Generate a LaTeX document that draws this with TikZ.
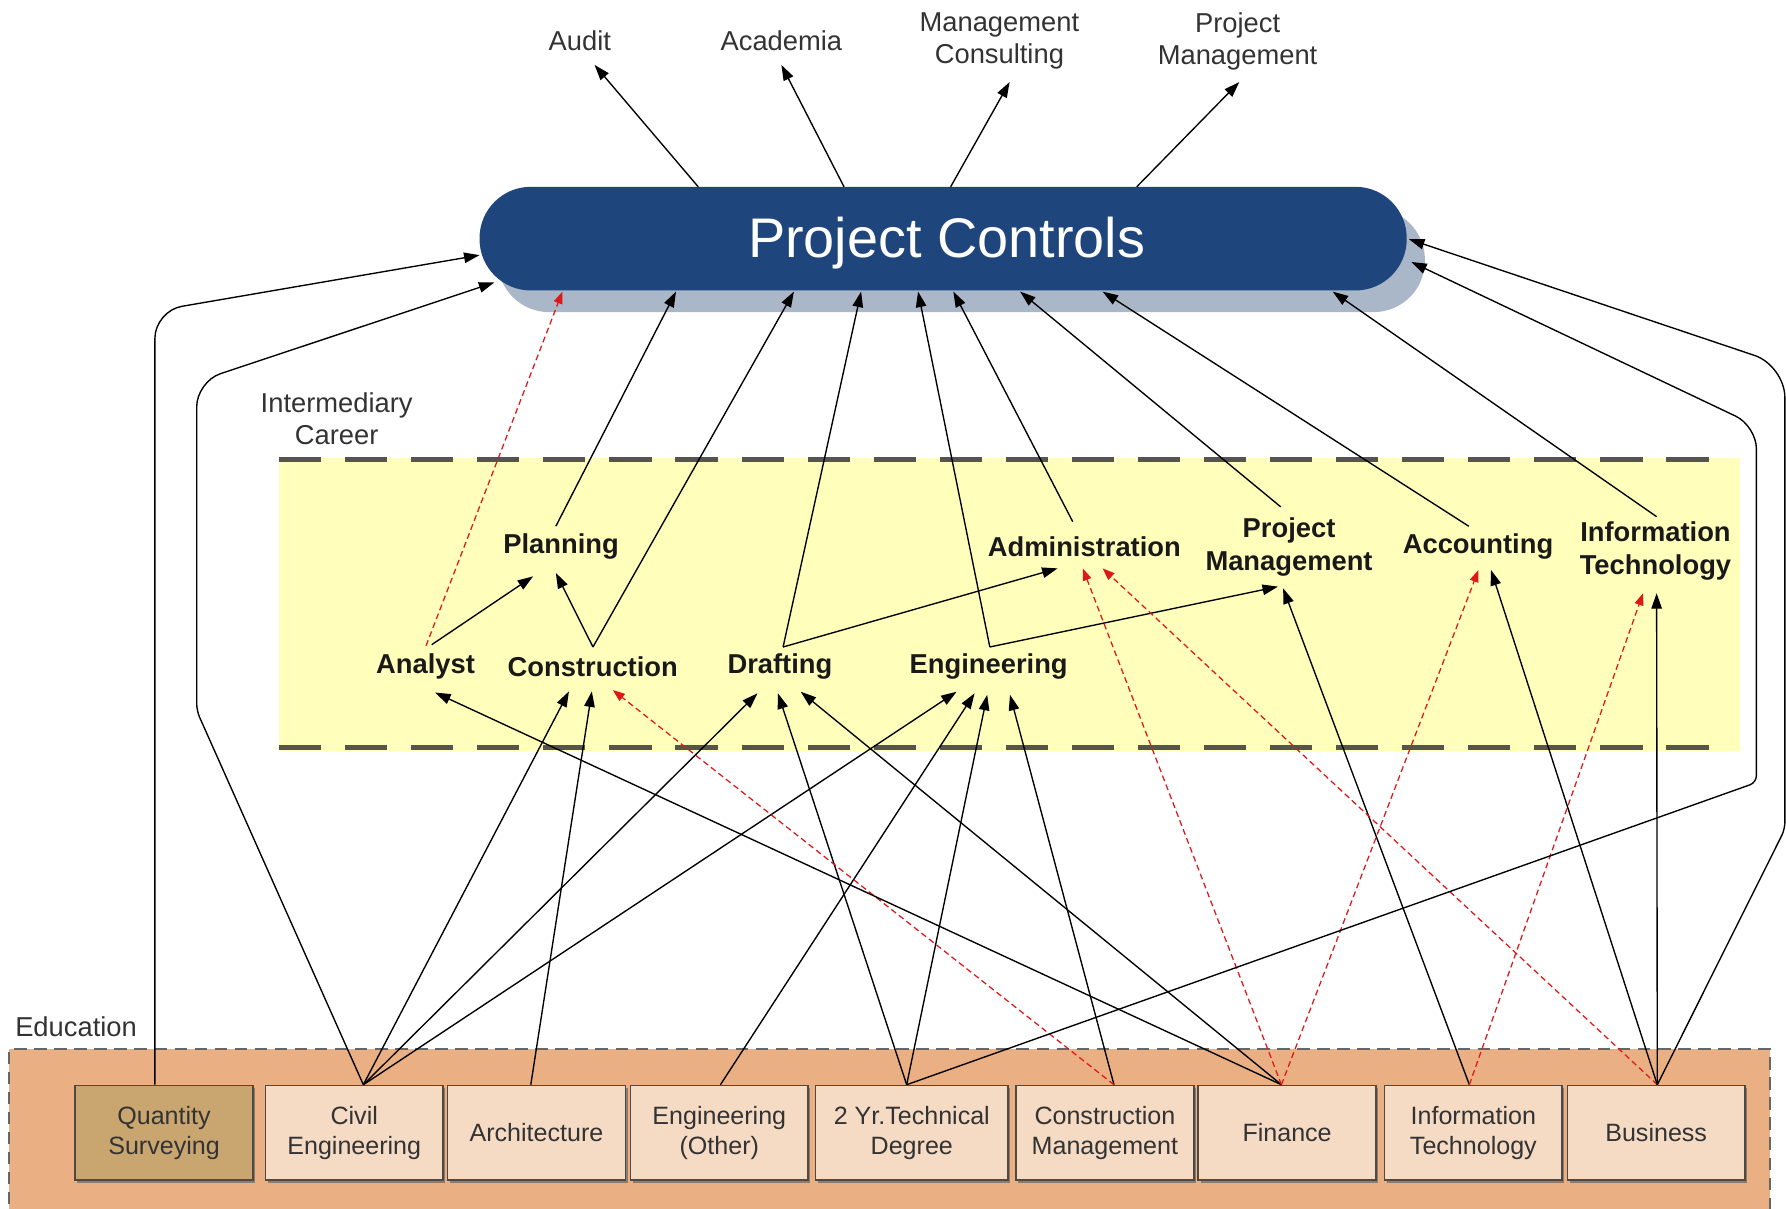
\documentclass[tikz,border=0pt]{standalone}
\usepackage{fontspec}
\setmainfont{Liberation Sans}
\usetikzlibrary{arrows.meta,calc,shadows}
\definecolor{pcblue}{RGB}{31,70,124}
\definecolor{pcshadow}{RGB}{170,183,201}
\definecolor{bandyellow}{RGB}{255,255,187}
\definecolor{dashgray}{RGB}{85,85,78}
\definecolor{eduouter}{RGB}{234,176,131}
\definecolor{edufill}{RGB}{245,218,196}
\definecolor{qsfill}{RGB}{201,166,112}
\definecolor{boxborder}{RGB}{80,72,66}
\definecolor{txtgray}{RGB}{51,51,51}
\definecolor{redline}{RGB}{222,24,24}
\begin{document}
\begin{tikzpicture}[x=0.5pt,y=-0.5pt,
  lbl/.style={font=\fontsize{12}{14}\selectfont, text=txtgray, align=center, inner sep=0pt},
  career/.style={font=\bfseries\fontsize{12}{14.5}\selectfont, text=black!90, align=center, inner sep=0pt},
  edu/.style={draw=boxborder, line width=0.7pt, fill=edufill, minimum width=78pt, minimum height=41.5pt,
    inner sep=0pt, align=center, font=\fontsize{11}{13}\selectfont, text=txtgray,
    drop shadow={shadow xshift=1pt, shadow yshift=-1.3pt, fill=black!60, opacity=0.7}},
  arr/.style={line width=0.6pt, -{Triangle[length=6.8pt,width=4.6pt]}},
  rarr/.style={line width=0.55pt, draw=redline, dash pattern=on 2.6pt off 1.6pt,
    -{Triangle[length=5.3pt,width=3.9pt,fill=redline]}},
  banddash/.style={line width=2.2pt, draw=dashgray, dash pattern=on 18.5pt off 10.5pt},
  eduborder/.style={line width=0.8pt, draw=black!60, dash pattern=on 5.5pt off 3.3pt}
]
\useasboundingbox (0,0) rectangle (1568,1061);

% backgrounds
\fill[bandyellow] (245,402) rectangle (1528,659);
\draw[banddash] (245,403) -- (1510,403);
\draw[banddash] (245,656) -- (1510,656);
\fill[eduouter] (8,921) rectangle (1554,1075);
\draw[eduborder] (8,1075) -- (8,921) -- (1554,921) -- (1554,1075);

% labels
\node[lbl] (audit) at (509,36) {Audit};
\node[lbl] (acad) at (686,36) {Academia};
\node[lbl] (mc) at (877.4,36) {Management\\Consulting};
\node[lbl] (tpm) at (1086.5,36) {Project\\Management};
\node[lbl] (inter) at (295.6,368) {Intermediary\\Career};
\node[lbl, anchor=west] (educ) at (13,901) {Education};

% project controls
\node[fill=pcblue, rounded corners=22.5pt, minimum width=407pt, minimum height=45.5pt, inner sep=0pt,
  text=white, font=\fontsize{24.5}{28}\selectfont,
  drop shadow={shadow xshift=8pt, shadow yshift=-9.5pt, fill=pcshadow, opacity=1}]
  (pc) at (828,209.5) {\raisebox{-8.25pt}[0pt][0pt]{\hspace*{3pt}Project Controls}};

% career nodes
\node[career] (ana) at (373.6,585) {Analyst};
\node[career] (plan) at (492.6,480) {Planning};
\node[career] (cons) at (520.4,585) {Construction};
\node[career] (draft) at (684.7,585) {Drafting};
\node[career] (eng) at (868,585) {Engineering};
\node[career] (adm) at (952,480) {Administration};
\node[career] (pm) at (1131.7,480) {Project\\Management};
\node[career] (acc) at (1297.6,480) {Accounting};
\node[career] (itc) at (1453.4,484) {Information\\Technology};

% education nodes
\node[edu, fill=qsfill] (qs) at (144,994.5) {Quantity\\Surveying};
\node[edu] (civ) at (311,994.5) {Civil\\Engineering};
\node[edu] (arch) at (471,994.5) {Architecture};
\node[edu] (engo) at (631.5,994.5) {Engineering\\(Other)};
\node[edu, minimum width=84.5pt] (two) at (800.5,994.5) {2 Yr.Technical\\Degree};
\node[edu] (cm) at (970,994.5) {Construction\\Management};
\node[edu] (fin) at (1130,994.5) {Finance};
\node[edu] (it) at (1293.5,994.5) {Information\\Technology};
\node[edu] (bus) at (1454,994.5) {Business};

% ports
\coordinate (qsT) at ($(qs.north)+(-8,0)$);
\coordinate (civT) at ($(civ.north)+(8,0)$);
\coordinate (archT) at ($(arch.north)+(-5,0)$);
\coordinate (engoT) at ($(engo.north)+(1,0)$);
\coordinate (twoT) at ($(two.north)+(-4.5,0)$);
\coordinate (cmT) at ($(cm.north)+(8,0)$);
\coordinate (finT) at ($(fin.north)+(-5,0)$);
\coordinate (itT) at ($(it.north)+(-3.5,0)$);
\coordinate (busT) at ($(bus.north)+(1,0)$);

% top outputs
\draw[arr] ($(pc)+(-215,-45.5)$) -- ($(audit)+(13,21)$);
\draw[arr] ($(pc)+(-87,-45.5)$) -- ($(acad)+(0,21)$);
\draw[arr] ($(pc)+(6.6,-45.5)$) -- ($(mc)+(9,36)$);
\draw[arr] ($(pc)+(170,-45.5)$) -- ($(tpm)+(1.5,36)$);

% career -> project controls
\draw[rarr] ($(ana)+(0.4,-18)$) -- ($(pc)+(-334.2,46.5)$);
\draw[arr] ($(plan)+(-4.6,-18)$) -- ($(pc)+(-234.5,46.5)$);
\draw[arr] ($(cons)+(0.2,-17)$) -- ($(pc)+(-131,46.5)$);
\draw[arr] ($(draft)+(2.8,-17)$) -- ($(pc)+(-72,46.5)$);
\draw[arr] ($(eng)+(1,-17)$) -- ($(pc)+(-22,46.5)$);
\draw[arr] ($(adm)+(-10.2,-22)$) -- ($(pc)+(9,46.5)$);
\draw[arr] ($(pm)+(-7.3,-35)$) -- ($(pc)+(67.6,46.5)$);
\draw[arr] ($(acc)+(-8.1,-18)$) -- ($(pc)+(140,46.5)$);
\draw[arr] ($(itc)+(1,-30.4)$) -- ($(pc)+(342,46.5)$);

% within career band
\draw[arr] ($(ana)+(5.4,-19)$) -- ($(plan)+(-24.6,26)$);
\draw[arr] ($(cons)+(0.2,-17)$) -- ($(plan)+(-4.6,23)$);
\draw[arr] ($(draft)+(2.8,-17)$) -- ($(adm)+(-23.5,19)$);
\draw[arr] ($(eng)+(1,-17)$) -- ($(pm)+(-9.7,35)$);

% education -> career
\draw[arr] (civT) -- ($(cons)+(-20.9,22)$);
\draw[arr] (civT) -- ($(draft)+(-19.7,23.7)$);
\draw[arr] (civT) -- ($(eng)+(-28.2,22.3)$);
\draw[arr] (archT) -- ($(cons)+(-0.8,22)$);
\draw[arr] (engoT) -- ($(eng)+(-12.4,23.7)$);
\draw[arr] (twoT) -- ($(draft)+(-1.7,23.7)$);
\draw[arr] (twoT) -- ($(eng)+(-1.3,25)$);
\draw[arr] (cmT) -- ($(eng)+(18.7,25)$);
\draw[rarr] (cmT) -- ($(cons)+(17.6,20.8)$);
\draw[arr] (finT) -- ($(ana)+(8.4,23)$);
\draw[arr] (finT) -- ($(draft)+(18.3,22.3)$);
\draw[rarr] (finT) -- ($(adm)+(-1.4,19)$);
\draw[rarr] (finT) -- ($(acc)+(0.4,20.4)$);
\draw[arr] (itT) -- ($(pm)+(-5.2,36.5)$);
\draw[rarr] (itT) -- ($(itc)+(-10.9,36.8)$);
\draw[rarr] (busT) -- ($(adm)+(16,19)$);
\draw[arr] (busT) -- ($(acc)+(11.4,20.4)$);
\draw[arr] (busT) -- ($(itc)+(1,36.8)$);

% loops to project controls
\draw[arr, rounded corners=12pt] (qsT) -- (136,273) -- ($(pc)+(-407,14.5)$);
\draw[arr, rounded corners=3pt] (civT) -- (172.7,624) [rounded corners=11pt] -- (172.7,335) -- ($(pc)+(-394,38.5)$);
\draw[arr, rounded corners=3pt] (twoT) -- (1542,687) [rounded corners=10pt] -- (1542,374) -- ($(pc)+(411,20.5)$);
\draw[arr, rounded corners=3pt] (busT) -- (1567,728) [rounded corners=14pt] -- (1567,321) -- ($(pc)+(409,0.5)$);
\end{tikzpicture}
\end{document}
